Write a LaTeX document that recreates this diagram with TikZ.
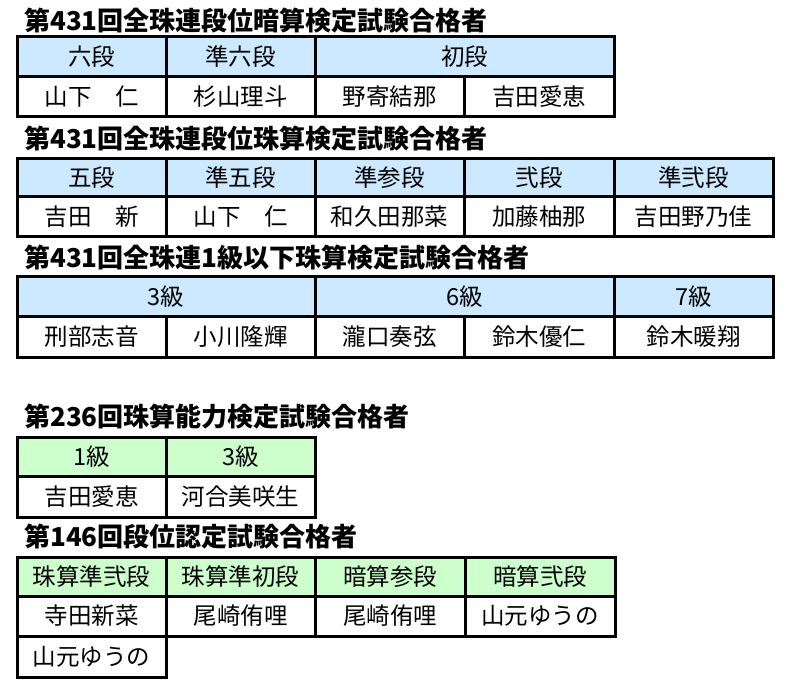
\documentclass[tikz,border=0pt]{standalone}
\usepackage{fontspec}
\newfontfamily\cjk{Noto Sans CJK JP}
\definecolor{hdrblue}{HTML}{CCE9FF}
\definecolor{hdrgreen}{HTML}{CCFFCC}
\begin{document}
\begin{tikzpicture}[x=1pt, y=-1pt,
    cell/.style={draw, line width=3pt, inner sep=0pt, minimum height=40pt, font=\cjk\fontsize{23.5}{23.5}\selectfont},
    bluecell/.style={cell, fill=hdrblue},
    greencell/.style={cell, fill=hdrgreen},
    namecell/.style={cell, fill=white},
    caption/.style={anchor=west, inner sep=0pt, font=\cjk\bfseries\fontsize{26}{26}\selectfont}]
    \useasboundingbox[fill=white] (0,0) rectangle (792,692);

    % titles
    \node (t1) [caption] at (24,21) {第431回全珠連段位暗算検定試験合格者};
    \node (t2) [caption] at (24,138.5) {第431回全珠連段位珠算検定試験合格者};
    \node (t3) [caption] at (24,257.5) {第431回全珠連1級以下珠算検定試験合格者};
    \node (t4) [caption] at (24,416.5) {第236回珠算能力検定試験合格者};
    \node (t5) [caption] at (24,536.5) {第146回段位認定試験合格者};

    % table 1
    \node (a6) [bluecell, minimum width=149pt] at (91.5,57) {六段};
    \node (aj6) [bluecell, minimum width=149pt] at (240.5,57) {準六段};
    \node (a1) [bluecell, minimum width=299pt] at (464.5,57) {初段};
    \node (an1) [namecell, minimum width=149pt] at (91.5,97) {山下　仁};
    \node (an2) [namecell, minimum width=149pt] at (240.5,97) {杉山理斗};
    \node (an3) [namecell, minimum width=149pt] at (389.5,97) {野寄結那};
    \node (an4) [namecell, minimum width=150pt] at (539,97) {吉田愛恵};

    % table 2
    \node (s5) [bluecell, minimum width=149pt, minimum height=38pt] at (91.5,178) {五段};
    \node (sj5) [bluecell, minimum width=149pt, minimum height=38pt] at (240.5,178) {準五段};
    \node (sj3) [bluecell, minimum width=149pt, minimum height=38pt] at (389.5,178) {準参段};
    \node (s2) [bluecell, minimum width=150pt, minimum height=38pt] at (539,178) {弐段};
    \node (sj2) [bluecell, minimum width=159pt, minimum height=38pt] at (693.5,178) {準弐段};
    \node (sn1) [namecell, minimum width=149pt] at (91.5,217) {吉田　新};
    \node (sn2) [namecell, minimum width=149pt] at (240.5,217) {山下　仁};
    \node (sn3) [namecell, minimum width=149pt] at (389.5,217) {和久田那菜};
    \node (sn4) [namecell, minimum width=150pt] at (539,217) {加藤柚那};
    \node (sn5) [namecell, minimum width=159pt] at (693.5,217) {吉田野乃佳};

    % table 3
    \node (k3) [bluecell, minimum width=298pt] at (166,297) {3級};
    \node (k6) [bluecell, minimum width=299pt] at (464.5,297) {6級};
    \node (k7) [bluecell, minimum width=159pt] at (693.5,297) {7級};
    \node (kn1) [namecell, minimum width=149pt] at (91.5,337) {刑部志音};
    \node (kn2) [namecell, minimum width=149pt] at (240.5,337) {小川隆輝};
    \node (kn3) [namecell, minimum width=149pt] at (389.5,337) {瀧口奏弦};
    \node (kn4) [namecell, minimum width=150pt] at (539,337) {鈴木優仁};
    \node (kn5) [namecell, minimum width=159pt] at (693.5,337) {鈴木暖翔};

    % table 4
    \node (n1) [greencell, minimum width=149pt, minimum height=39pt] at (91.5,456.5) {1級};
    \node (n3) [greencell, minimum width=149pt, minimum height=39pt] at (240.5,456.5) {3級};
    \node (nn1) [namecell, minimum width=149pt, minimum height=41pt] at (91.5,496.5) {吉田愛恵};
    \node (nn2) [namecell, minimum width=149pt, minimum height=41pt] at (240.5,496.5) {河合美咲生};

    % table 5
    \node (d1) [greencell, minimum width=149pt, minimum height=39pt] at (91.5,576.5) {珠算準弐段};
    \node (d2) [greencell, minimum width=149pt, minimum height=39pt] at (240.5,576.5) {珠算準初段};
    \node (d3) [greencell, minimum width=150pt, minimum height=39pt] at (390,576.5) {暗算参段};
    \node (d4) [greencell, minimum width=150pt, minimum height=39pt] at (540,576.5) {暗算弐段};
    \node (dn1) [namecell, minimum width=149pt] at (91.5,616) {寺田新菜};
    \node (dn2) [namecell, minimum width=149pt] at (240.5,616) {尾崎侑哩};
    \node (dn3) [namecell, minimum width=150pt] at (390,616) {尾崎侑哩};
    \node (dn4) [namecell, minimum width=150pt] at (540,616) {山元ゆうの};
    \node (dn5) [namecell, minimum width=149pt, minimum height=41pt] at (91.5,656.5) {山元ゆうの};
\end{tikzpicture}
\end{document}
